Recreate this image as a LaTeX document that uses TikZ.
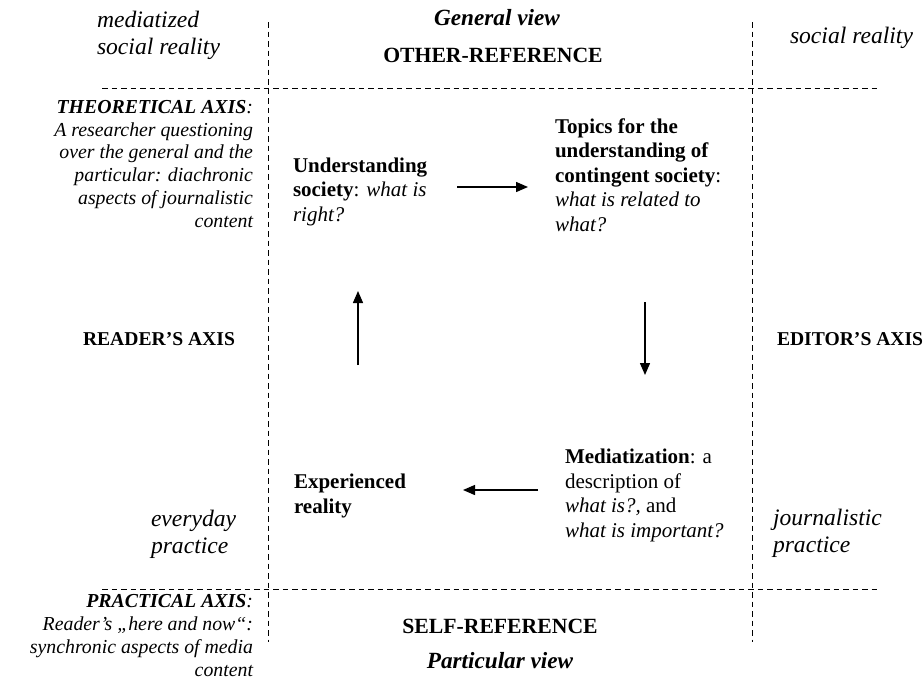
\documentclass[tikz,border=0pt]{standalone}
\usepackage{fontspec}
\setmainfont{Liberation Serif}
\usetikzlibrary{arrows.meta}
\begin{document}
\begin{tikzpicture}[x=1pt,y=-1pt,
  every node/.style={inner sep=0pt,outer sep=0pt},
  body/.style={font=\fontsize{21}{24.5}\selectfont,align=left,anchor=base west},
  capt/.style={font=\fontsize{19.8}{22.7}\selectfont\itshape,align=right,anchor=base east},
  corner/.style={font=\fontsize{23.6}{27}\selectfont\itshape,align=left,anchor=base west},
  axis/.style={font=\fontsize{19.6}{23}\selectfont\bfseries,anchor=base west},
  refer/.style={font=\fontsize{21.7}{26}\selectfont\bfseries,anchor=base},
  view/.style={font=\fontsize{23.2}{27}\selectfont\bfseries\itshape,anchor=base},
  grid/.style={dash pattern=on 5.5pt off 4pt,line width=0.9pt},
  flow/.style={line width=1.4pt,-{Triangle[length=12pt,width=10pt]}}]
\useasboundingbox (0,0) rectangle (924,694);

% dashed grid
\coordinate (lt) at (268,22);
\coordinate (lb) at (268,642);
\coordinate (rt) at (752,22);
\coordinate (rb) at (752,642);
\coordinate (tl) at (102,88);
\coordinate (tr) at (878,88);
\coordinate (bl) at (102,589);
\coordinate (br) at (878,589);
\draw[grid] (lt) -- (lb);
\draw[grid] (rt) -- (rb);
\draw[grid] (tl) -- (tr);
\draw[grid] (bl) -- (br);

% corner labels (anchor = baseline of last line)
\node[corner] (msr) at (97,54) {mediatized\\social reality};
\node[corner] (sr) at (790,43) {social reality};
\node[corner] (ep) at (151,553) {everyday\\practice};
\node[corner] (jp) at (773,552) {journalistic\\practice};

% top and bottom
\node[view] (gv) at (497,25) {General view};
\node[refer] (oref) at (493,62) {OTHER-REFERENCE};
\node[refer] (sref) at (500,633) {SELF-REFERENCE};
\node[view] (pv) at (500,668) {Particular view};

% axes
\node[axis] (rax) at (83,345) {READER’S AXIS};
\node[axis] (eax) at (777,345) {EDITOR’S AXIS};
\node[capt] (tax) at (253,227) {\textbf{THEORETICAL AXIS}:\\A researcher questioning\\over the general and the\\particular: diachronic\\aspects of journalistic\\content};
\node[capt] (pax) at (253,676) {\textbf{PRACTICAL AXIS}:\\Reader’s „here and now“:\\synchronic aspects of media\\content};

% cycle
\node[body] (us) at (293,221) {\textbf{Understanding}\\\textbf{society}: \textit{what is}\\\textit{right?}};
\node[body] (tp) at (555,231) {\textbf{Topics for the}\\\textbf{understanding of}\\\textbf{contingent society}:\\\textit{what is related to}\\\textit{what?}};
\node[body] (md) at (565,537) {\textbf{Mediatization}: a\\description of\\\textit{what is?,} and\\\textit{what is important?}};
\node[body] (ex) at (294,513) {\textbf{Experienced}\\\textbf{reality}};

\coordinate (a1s) at (457,187);
\coordinate (a1e) at (528,187);
\coordinate (a2s) at (645,302);
\coordinate (a2e) at (645,375);
\coordinate (a3s) at (538,490);
\coordinate (a3e) at (463,490);
\coordinate (a4s) at (358,365);
\coordinate (a4e) at (358,291);
\draw[flow] (a1s) -- (a1e);
\draw[flow] (a2s) -- (a2e);
\draw[flow] (a3s) -- (a3e);
\draw[flow] (a4s) -- (a4e);
\end{tikzpicture}
\end{document}
